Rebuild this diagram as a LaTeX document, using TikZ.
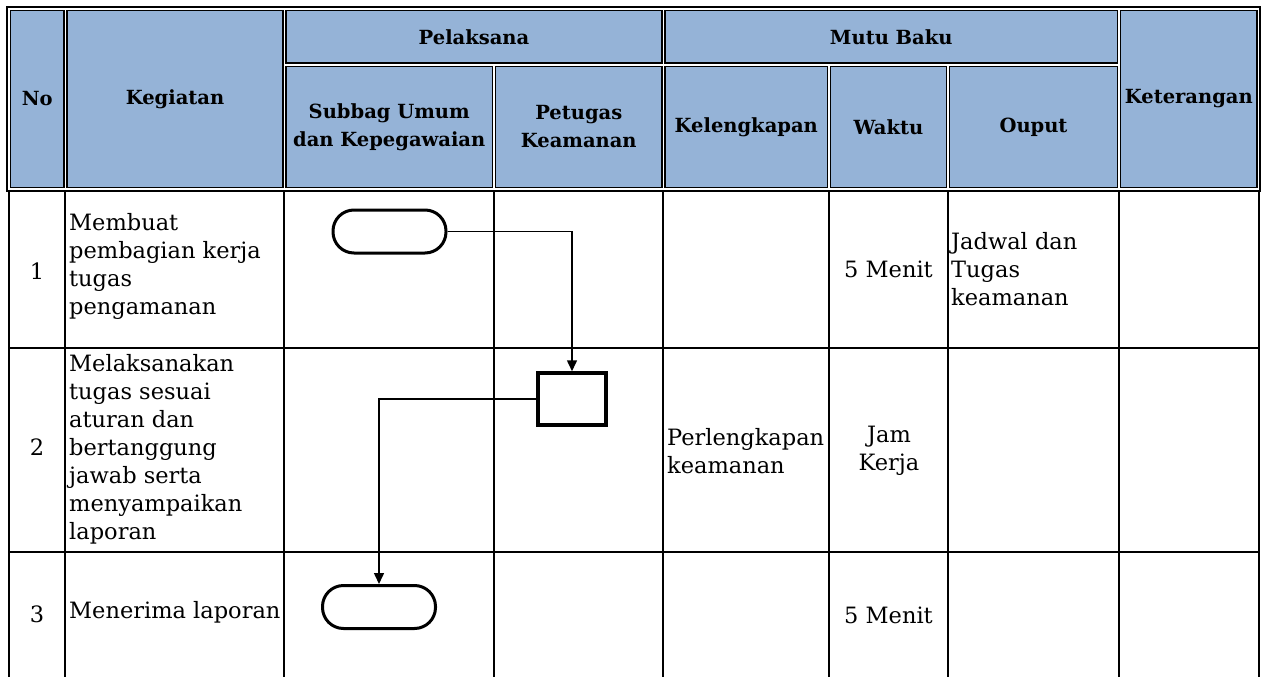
\documentclass[tikz,border=0pt]{standalone}
\usepackage{fontspec}
\setmainfont{DejaVu Serif}
\usepackage{tikz}
\usetikzlibrary{arrows.meta}
\definecolor{headblue}{RGB}{149,179,215}

\begin{document}
\begin{tikzpicture}[x=1pt, y=-1pt, head/.style={draw, line width=1.8pt, fill=headblue, inner sep=0pt, align=center, font=\fontsize{19.5}{28}\selectfont\bfseries}, txt/.style={inner sep=0pt, align=left, anchor=west, font=\fontsize{22.5}{28}\selectfont}, txtc/.style={inner sep=0pt, align=center, font=\fontsize{22.5}{28}\selectfont}, term/.style={draw, rectangle, rounded corners=21pt, line width=3pt, minimum width=113pt, minimum height=43pt}, proc/.style={draw, rectangle, line width=3.5pt, minimum width=68pt, minimum height=52pt}, grid/.style={line width=1.7pt}, n/.style={-{Triangle[length=11pt, width=10pt]}, line width=1.5pt}]
            \useasboundingbox (0,0) rectangle (1261,677);
            % header
            \node[head, minimum width=53.5pt, minimum height=177pt] (no) at (37.25,99) {No};
            \node[head, minimum width=216pt, minimum height=177pt] (keg) at (175,99) {Kegiatan};
            \node[head, minimum width=376pt, minimum height=52.5pt] (pel) at (474,36.75) {Pelaksana};
            \node[head, minimum width=206.5pt, minimum height=121pt] (sub) at (389.25,127) {Subbag Umum\\dan Kepegawaian};
            \node[head, minimum width=166.5pt, minimum height=121pt] (pet) at (578.75,127) {Petugas\\Keamanan};
            \node[head, minimum width=452.5pt, minimum height=52.5pt] (mutu) at (891.25,36.75) {Mutu Baku};
            \node[head, minimum width=162.5pt, minimum height=121pt] (kel) at (746.25,127) {Kelengkapan};
            \node[head, minimum width=116pt, minimum height=121pt] (wak) at (888.5,127) {Waktu};
            \node[head, minimum width=168pt, minimum height=121pt] (out) at (1033.5,127) {Ouput};
            \node[head, minimum width=136.5pt, minimum height=177pt] (ket) at (1188.75,99) {Keterangan};
            \draw[line width=2.5pt] (7,7) rectangle (1260,191);
            % body grid
            \draw[grid] (9,191) -- (9,677);
            \draw[grid] (65,191) -- (65,677);
            \draw[grid] (284,191) -- (284,677);
            \draw[grid] (494,191) -- (494,677);
            \draw[grid] (663,191) -- (663,677);
            \draw[grid] (829,191) -- (829,677);
            \draw[grid] (948,191) -- (948,677);
            \draw[grid] (1119,191) -- (1119,677);
            \draw[grid] (1259,191) -- (1259,677);
            \draw[grid] (9,348) -- (1259,348);
            \draw[grid] (9,552) -- (1259,552);
            % row texts
            \node[txtc] (n1) at (37,271) {1};
            \node[txt] (k1) at (69,266) {Membuat\\pembagian kerja\\tugas\\pengamanan};
            \node[txtc] (w1) at (888.5,269) {5 Menit};
            \node[txt] (o1) at (951,269) {Jadwal dan\\Tugas\\keamanan};
            \node[txtc] (n2) at (37,447) {2};
            \node[txt] (k2) at (69,449) {Melaksanakan\\tugas sesuai\\aturan dan\\bertanggung\\jawab serta\\menyampaikan\\laporan};
            \node[txt] (l2) at (667,451) {Perlengkapan\\keamanan};
            \node[txtc] (w2) at (889,451) {Jam\\Kerja};
            \node[txtc] (n3) at (37,614) {3};
            \node[txt] (k3) at (69,612) {Menerima laporan};
            \node[txtc] (w3) at (888.5,615) {5 Menit};
            % flow
            \node[term] (start) at (389.5,231.5) {};
            \node[proc] (task) at (572,399) {};
            \node[term] (end) at (379,607) {};
            \draw[n] (start.east) -| (task.north);
            \draw[n] (task.west) -| (end.north);
\end{tikzpicture}
\end{document}
